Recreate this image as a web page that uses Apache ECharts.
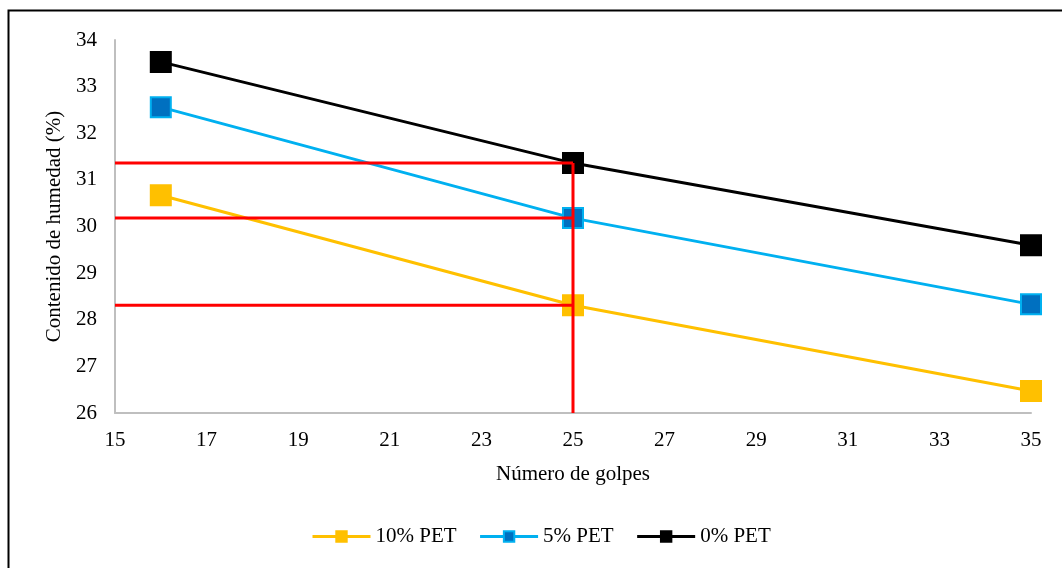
<!DOCTYPE html>
<html>
<head>
<meta charset="utf-8">
<script src="https://cdn.jsdelivr.net/npm/echarts@6/dist/echarts.min.js"></script>
<style>html,body{margin:0;padding:0;background:#fff}#c{width:1062px;height:568px}</style>
</head>
<body>
<div id="c"></div>
<script>
const golpes = [16, 25, 35];
const pet10 = [30.67, 28.31, 26.47];
const pet5 = [32.56, 30.18, 28.33];
const pet0 = [33.53, 31.36, 29.60];
const refX = 25;
const refY = [31.36, 30.18, 28.31];
const seriesNames = ['10% PET', '5% PET', '0% PET'];

const font = 'Liberation Serif';
const fs = 21;
const chart = echarts.init(document.getElementById('c'), null, {renderer: 'canvas'});
const pts = arr => golpes.map((g, i) => [g, arr[i]]);
const mk = (name, arr, lineColor, fill, border) => ({
  name, type: 'line', data: pts(arr), symbol: 'rect', symbolSize: 20,
  lineStyle: {color: lineColor, width: 3},
  itemStyle: {color: fill, borderColor: border, borderWidth: 2},
  z: 3, animation: false
});
const redSeries = [];
refY.forEach(v => {
  redSeries.push({type: 'line', data: [[15, v], [refX, v]], symbol: 'none',
    lineStyle: {color: '#FF0000', width: 3}, z: 4, silent: true, animation: false});
});
redSeries.push({type: 'line', data: [[refX, 26], [refX, Math.max(...refY)]], symbol: 'none',
  lineStyle: {color: '#FF0000', width: 3}, z: 4, silent: true, animation: false});

chart.setOption({
  animation: false,
  backgroundColor: '#fff',
  graphic: [{type: 'rect', shape: {x: 8.5, y: 10.5, width: 1200, height: 700},
    style: {fill: 'none', stroke: '#000', lineWidth: 2}, silent: true}],
  grid: {left: 115, right: 31, top: 40, bottom: 155},
  legend: {
    data: seriesNames, bottom: 16, left: 306, itemWidth: 58, itemHeight: 13, itemGap: 22,
    lineStyle: {width: 3},
    textStyle: {fontFamily: font, fontSize: fs, color: '#000'}
  },
  xAxis: {
    type: 'value', min: 15, max: 35, interval: 2,
    name: 'Número de golpes', nameLocation: 'middle', nameGap: 51,
    nameTextStyle: {fontFamily: font, fontSize: fs, color: '#000'},
    axisLine: {lineStyle: {color: '#BFBFBF', width: 2}},
    axisTick: {show: false}, splitLine: {show: false},
    axisLabel: {fontFamily: font, fontSize: fs, color: '#000', margin: 17}
  },
  yAxis: {
    type: 'value', min: 26, max: 34, interval: 1,
    name: 'Contenido de humedad (%)', nameLocation: 'middle', nameGap: 47,
    nameTextStyle: {fontFamily: font, fontSize: fs, color: '#000'},
    axisLine: {show: true, lineStyle: {color: '#BFBFBF', width: 2}},
    axisTick: {show: false}, splitLine: {show: false},
    axisLabel: {fontFamily: font, fontSize: fs, color: '#000', margin: 18}
  },
  series: [
    mk(seriesNames[0], pet10, '#FFC000', '#FFC000', '#FFC000'),
    mk(seriesNames[1], pet5, '#00B0F0', '#0070C0', '#00B0F0'),
    mk(seriesNames[2], pet0, '#000000', '#000000', '#000000'),
    ...redSeries
  ]
});
</script>
</body>
</html>
